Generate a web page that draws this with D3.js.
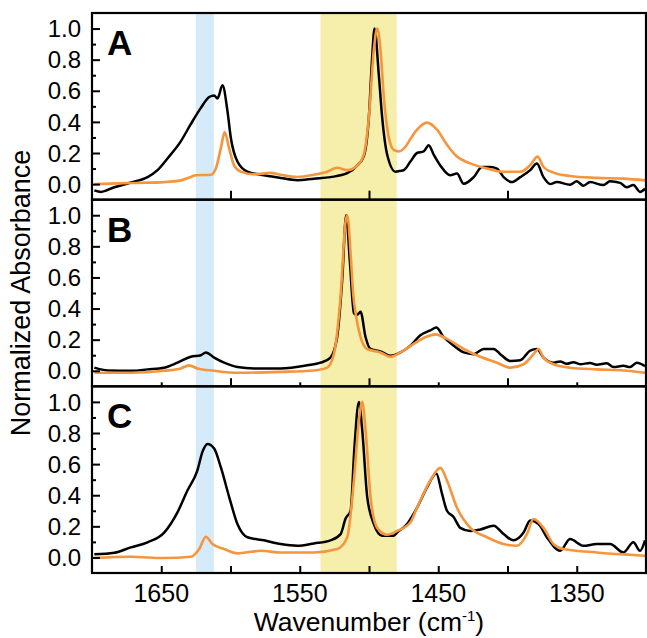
<!DOCTYPE html>
<html><head><meta charset="utf-8">
<script src="https://cdn.jsdelivr.net/npm/d3@7"></script>
<style>body{margin:0;background:#fff}svg{display:block}text{font-family:Arial,"Liberation Sans",sans-serif}</style>
</head><body><div id="chart"></div>
<script>
// ---------- data (wavenumber cm-1, normalized absorbance) ----------
const panelLabels = ["A", "B", "C"];
const xTickLabels = [1650, 1550, 1450, 1350];
const yTickLabels = [0.0, 0.2, 0.4, 0.6, 0.8, 1.0];
const blueBand = [1625, 1612];
const yellowBand = [1535, 1480];

const aBlack = [[1698.3,-0.04],[1693.5,-0.05],[1683.9,-0.02],[1671.9,0.01],[1659.9,0.045],[1652.7,0.09],[1645.5,0.165],[1635.9,0.275],[1628.7,0.385],[1621.4,0.49],[1615.4,0.56],[1611.8,0.57],[1609.4,0.55],[1605.8,0.635],[1602.2,0.47],[1599.8,0.30],[1595.0,0.145],[1587.8,0.08],[1575.8,0.057],[1563.8,0.04],[1551.8,0.025],[1539.8,0.035],[1527.8,0.045],[1515.7,0.07],[1508.5,0.12],[1503.7,0.18],[1500.1,0.43],[1497.7,0.82],[1496.0,1.0],[1492.9,0.70],[1490.5,0.43],[1486.9,0.19],[1480.9,0.08],[1477.3,0.085],[1474.9,0.09],[1470.1,0.145],[1465.3,0.20],[1460.5,0.21],[1456.9,0.25],[1453.3,0.19],[1448.5,0.12],[1441.3,0.057],[1436.5,0.068],[1431.6,0.002],[1424.4,0.045],[1418.4,0.11],[1412.4,0.11],[1407.6,0.10],[1402.8,0.045],[1396.8,0.013],[1390.8,0.045],[1383.6,0.09],[1378.8,0.133],[1374.0,0.045],[1369.2,0.0],[1364.4,0.013],[1354.8,-0.004],[1350.0,0.018],[1345.2,-0.01],[1340.4,0.013],[1330.8,-0.006],[1326.0,0.018],[1318.7,0.008],[1313.9,-0.02],[1309.1,-0.005],[1304.3,-0.05],[1300.7,-0.03]];
const aOrange = [[1698.3,0.0],[1671.9,0.007],[1647.9,0.013],[1635.9,0.024],[1628.7,0.046],[1625.0,0.057],[1614.2,0.06],[1610.6,0.10],[1607.0,0.23],[1604.2,0.334],[1601.0,0.23],[1597.4,0.12],[1592.6,0.08],[1583.0,0.063],[1571.0,0.072],[1563.8,0.06],[1551.8,0.046],[1539.8,0.06],[1530.2,0.08],[1523.0,0.105],[1515.7,0.09],[1508.5,0.12],[1503.7,0.19],[1500.1,0.43],[1496.5,0.865],[1494.1,1.0],[1491.7,0.865],[1489.3,0.56],[1485.7,0.30],[1482.1,0.22],[1478.5,0.21],[1473.7,0.24],[1470.1,0.29],[1465.3,0.35],[1458.1,0.395],[1450.9,0.35],[1443.7,0.253],[1436.5,0.177],[1426.8,0.133],[1414.8,0.10],[1402.8,0.079],[1390.8,0.079],[1383.6,0.122],[1378.3,0.177],[1374.0,0.11],[1366.8,0.074],[1354.8,0.052],[1335.6,0.04],[1316.3,0.035],[1300.7,0.024]];

const bBlack = [[1698.3,0.02],[1688.7,0.002],[1671.9,0.0],[1659.9,0.009],[1647.9,0.02],[1638.3,0.052],[1628.7,0.09],[1621.4,0.10],[1617.8,0.118],[1611.8,0.085],[1604.6,0.052],[1595.0,0.024],[1583.0,0.015],[1563.8,0.015],[1544.6,0.035],[1535.0,0.052],[1527.8,0.085],[1523.0,0.217],[1519.3,0.59],[1516.5,1.0],[1513.8,0.70],[1510.9,0.37],[1508.5,0.36],[1506.1,0.38],[1502.5,0.217],[1498.9,0.14],[1491.7,0.125],[1484.5,0.096],[1477.3,0.118],[1470.1,0.162],[1462.9,0.228],[1455.7,0.26],[1451.4,0.278],[1446.1,0.217],[1438.9,0.162],[1431.6,0.118],[1424.4,0.107],[1417.2,0.14],[1410.0,0.14],[1405.2,0.107],[1398.0,0.063],[1390.8,0.068],[1383.6,0.13],[1378.8,0.14],[1374.0,0.085],[1366.8,0.052],[1362.0,0.06],[1357.2,0.045],[1352.4,0.055],[1347.6,0.042],[1340.4,0.05],[1335.6,0.038],[1328.3,0.048],[1323.5,0.024],[1316.3,0.032],[1311.5,0.024],[1306.7,0.052],[1300.7,0.03]];
const bOrange = [[1698.3,-0.013],[1671.9,-0.013],[1647.9,0.0],[1635.9,0.015],[1629.9,0.035],[1623.9,0.015],[1611.8,0.0],[1595.0,-0.013],[1563.8,-0.007],[1539.8,0.002],[1530.2,0.02],[1525.4,0.107],[1520.5,0.48],[1516.9,0.96],[1515.7,1.0],[1512.9,0.70],[1511.5,0.5],[1509.7,0.37],[1506.1,0.217],[1501.3,0.14],[1491.7,0.118],[1484.5,0.09],[1477.3,0.118],[1467.7,0.173],[1458.1,0.22],[1452.1,0.234],[1443.7,0.205],[1431.6,0.14],[1419.6,0.09],[1407.6,0.052],[1398.0,0.02],[1388.4,0.042],[1381.2,0.107],[1377.6,0.14],[1374.0,0.085],[1366.8,0.042],[1354.8,0.02],[1335.6,0.009],[1316.3,0.002],[1300.7,-0.013]];

const cBlack = [[1698.3,0.02],[1683.9,0.03],[1671.9,0.065],[1659.9,0.097],[1647.9,0.16],[1638.3,0.29],[1631.1,0.43],[1623.9,0.56],[1620.2,0.68],[1616.6,0.73],[1611.8,0.70],[1607.0,0.58],[1601.0,0.39],[1595.0,0.215],[1587.8,0.13],[1575.8,0.11],[1563.8,0.086],[1551.8,0.075],[1539.8,0.09],[1527.8,0.11],[1520.5,0.15],[1516.9,0.25],[1513.3,0.30],[1510.5,0.71],[1507.3,1.0],[1504.9,0.82],[1501.3,0.39],[1496.5,0.215],[1490.5,0.14],[1482.1,0.14],[1479.7,0.16],[1472.5,0.215],[1465.3,0.32],[1458.1,0.45],[1451.4,0.54],[1447.3,0.41],[1443.7,0.30],[1438.9,0.26],[1434.1,0.19],[1426.8,0.17],[1419.6,0.18],[1410.0,0.204],[1402.8,0.15],[1395.6,0.11],[1388.4,0.16],[1383.6,0.237],[1377.6,0.215],[1371.6,0.13],[1362.0,0.043],[1354.8,0.118],[1345.2,0.075],[1335.6,0.086],[1325.9,0.086],[1316.3,0.032],[1309.1,0.097],[1304.3,0.043],[1300.7,0.11]];
const cOrange = [[1698.3,-0.004],[1671.9,0.004],[1647.9,-0.004],[1628.7,0.004],[1622.6,0.054],[1617.8,0.133],[1613.0,0.086],[1604.6,0.054],[1595.0,0.026],[1578.2,0.043],[1563.8,0.032],[1539.8,0.032],[1523.0,0.054],[1515.7,0.13],[1510.9,0.495],[1507.3,0.88],[1504.9,1.0],[1502.5,0.82],[1498.9,0.39],[1494.1,0.19],[1486.9,0.146],[1479.7,0.17],[1470.1,0.226],[1465.3,0.32],[1455.7,0.495],[1448.5,0.576],[1443.7,0.495],[1436.5,0.32],[1426.8,0.19],[1414.8,0.13],[1402.8,0.086],[1393.2,0.075],[1386.0,0.15],[1381.2,0.247],[1374.0,0.19],[1366.8,0.086],[1359.6,0.054],[1335.6,0.032],[1311.5,0.017],[1300.7,0.011]];

const panelSeries = [[aBlack, aOrange], [bBlack, bOrange], [cBlack, cOrange]];

// ---------- layout ----------
const W = 647, H = 638;
const mLeft = 92, mRight = 646, mTop = 13, mBottom = 573;
const ph = (mBottom - mTop) / 3;
const svg = d3.select("#chart").append("svg").attr("width", W).attr("height", H);

const x = d3.scaleLinear().domain([1700, 1300]).range([mLeft, mRight]);
const blue = "#d5ebfa", yellow = "#f6eeab", orange = "#f7953d";

svg.append("defs").append("clipPath").attr("id", "clip")
  .append("rect").attr("x", mLeft).attr("y", mTop).attr("width", mRight - mLeft).attr("height", mBottom - mTop);

svg.append("rect").attr("x", x(blueBand[0])).attr("width", x(blueBand[1]) - x(blueBand[0]))
  .attr("y", mTop).attr("height", mBottom - mTop).attr("fill", blue);
svg.append("rect").attr("x", x(yellowBand[0])).attr("width", x(yellowBand[1]) - x(yellowBand[0]))
  .attr("y", mTop).attr("height", mBottom - mTop).attr("fill", yellow);

panelSeries.forEach((series, i) => {
  const pt = mTop + i * ph, pb = pt + ph;
  const y = d3.scaleLinear().domain([-0.1, 1.1]).range([pb, pt]);
  const g = svg.append("g");
  const line = d3.line().x(d => x(d[0])).y(d => y(d[1])).curve(d3.curveMonotoneX);
  const sorted = s => s.slice().sort((a, b) => b[0] - a[0]);
  g.append("path").datum(sorted(series[0])).attr("d", line).attr("fill", "none")
    .attr("stroke", "#000").attr("stroke-width", 2.5).attr("stroke-linejoin", "round").attr("clip-path", "url(#clip)");
  g.append("path").datum(sorted(series[1])).attr("d", line).attr("fill", "none")
    .attr("stroke", orange).attr("stroke-width", 2.6).attr("stroke-linejoin", "round").attr("clip-path", "url(#clip)");

  const yAx = d3.axisRight(y).tickValues(yTickLabels).tickSize(8).tickFormat("");
  g.append("g").attr("transform", `translate(${mLeft},0)`).call(yAx)
    .call(a => a.select(".domain").remove())
    .call(a => a.selectAll("line").attr("stroke", "#000").attr("stroke-width", 2));
  const yMin = d3.axisRight(y).tickValues([0.1, 0.3, 0.5, 0.7, 0.9]).tickSize(4).tickFormat("");
  g.append("g").attr("transform", `translate(${mLeft},0)`).call(yMin)
    .call(a => a.select(".domain").remove())
    .call(a => a.selectAll("line").attr("stroke", "#000").attr("stroke-width", 2));
  g.selectAll(".ylab").data(yTickLabels).enter().append("text")
    .attr("x", mLeft - 11).attr("y", d => y(d)).attr("dy", "0.36em")
    .attr("text-anchor", "end").attr("font-size", 24).attr("fill", "#000")
    .text(d => d3.format(".1f")(d));

  let majors, minors, majLen, minLen;
  if (i === 0) { majors = [1600, 1500, 1400]; minors = []; majLen = 9; minLen = 0; }
  else if (i === 1) { majors = [1600, 1500, 1400]; minors = xTickLabels; majLen = 8; minLen = 4; }
  else { majors = xTickLabels; minors = [1600, 1500, 1400]; majLen = 7; minLen = 7; }
  const xAxMaj = d3.axisTop(x).tickValues(majors).tickSize(majLen).tickFormat("");
  g.append("g").attr("transform", `translate(0,${pb})`).call(xAxMaj)
    .call(a => a.select(".domain").remove())
    .call(a => a.selectAll("line").attr("stroke", "#000").attr("stroke-width", 2));
  if (minors.length) {
    const xAxMin = d3.axisTop(x).tickValues(minors).tickSize(minLen).tickFormat("");
    g.append("g").attr("transform", `translate(0,${pb})`).call(xAxMin)
      .call(a => a.select(".domain").remove())
      .call(a => a.selectAll("line").attr("stroke", "#000").attr("stroke-width", 2));
  }

  g.append("rect").attr("x", mLeft).attr("y", pt).attr("width", mRight - mLeft).attr("height", ph)
    .attr("fill", "none").attr("stroke", "#000").attr("stroke-width", 2.2);

  g.append("text").attr("x", 107).attr("y", pt + 42).attr("font-size", 35).attr("font-weight", "bold")
    .attr("fill", "#000").text(panelLabels[i]);
});

svg.selectAll(".xlab").data(xTickLabels).enter().append("text")
  .attr("x", d => x(d)).attr("y", 602).attr("text-anchor", "middle")
  .attr("font-size", 25).attr("fill", "#000").text(d => d);

const xt = svg.append("text").attr("x", (mLeft + mRight) / 2).attr("y", 631)
  .attr("text-anchor", "middle").attr("font-size", 26.5).attr("fill", "#000");
xt.append("tspan").text("Wavenumber (cm");
xt.append("tspan").attr("font-size", 15).attr("dy", -10).text("-1");
xt.append("tspan").attr("dy", 10).text(")");

svg.append("text").attr("transform", `translate(30,${(mTop + mBottom) / 2}) rotate(-90)`)
  .attr("text-anchor", "middle").attr("font-size", 27).attr("fill", "#000")
  .text("Normalized Absorbance");
</script></body></html>
